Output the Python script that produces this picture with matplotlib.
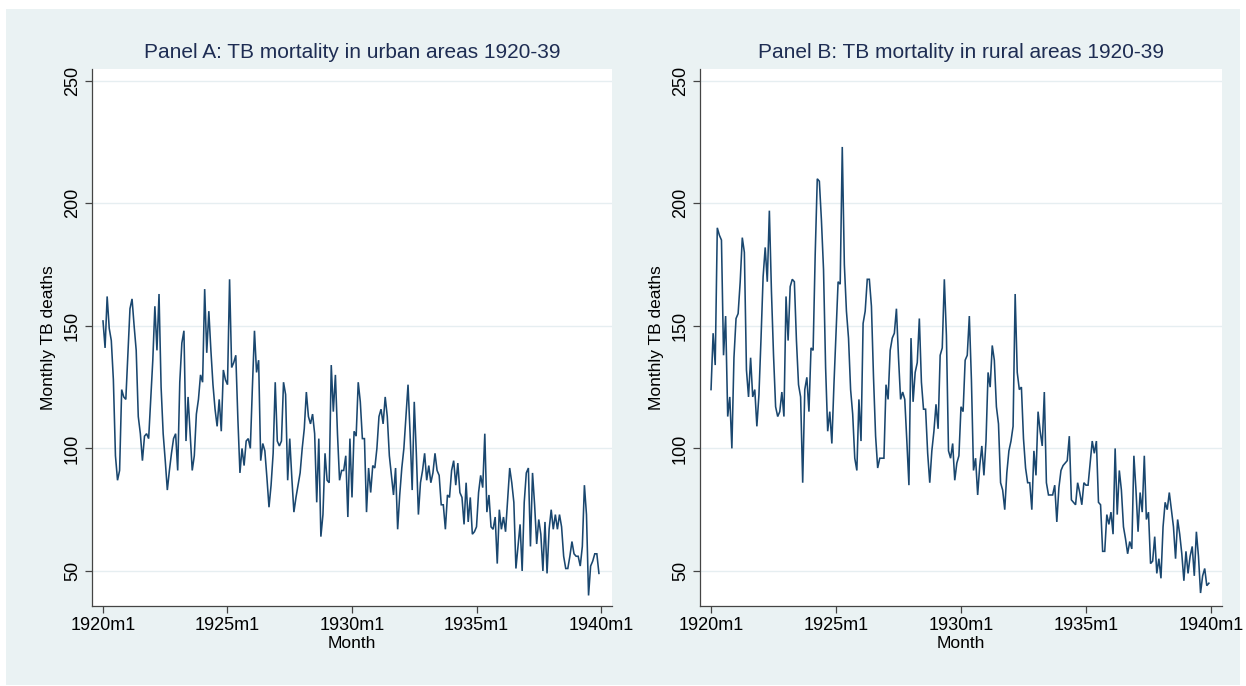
import matplotlib
matplotlib.use("Agg")
import matplotlib.pyplot as plt
from matplotlib.patches import Rectangle

plt.rcParams['font.family'] = ['Liberation Sans', 'DejaVu Sans']

# Monthly TB deaths, 1920m1 .. 1939m12 (240 months)
urban_deaths = [
    152,141,162,149,144,128,97,87,91,124, 121,120,139,157,161,150,140,113,106,95,
    105,106,104,120,136,158,140,163,125,106, 95,83,91,98,104,106,91,127,143,148,
    103,121,106,91,97,114,120,130,127,
    165,139,156,140,126,116,109,120,107,132, 128,126,169,133,135,138,112,90,100,93,
    103,104,100,125,148,131,136,95,102,99, 88,76,85,98,127,103,101,103,127,122,
    87,104,88,74,80,85,90,100,108,123, 113,110,114,106,
    78,104,64,73,98,87,86,134,115,130, 106,87,91,91,97,72,104,80,107,105,
    127,119,104,104,74,92,82,93,92,100, 113,116,110,121,113,97,89,81,92,67,
    81,92,100,113,126,106,83,119,98,73, 86,
    91,98,87,93,86,90,98,91,89,77, 77,67,81,80,91,95,85,94,82,80,
    69,86,70,80,65,66,68,82,89,84, 106,74,81,68,67,72,53,75,67,72,
    66,79,92,86,78,51,60,69,50,78, 90,
    92,60,90,77,61,71,65,50,70,49, 67,75,67,73,67,73,68,56,51,51,
    56,62,57,56,56,52,60,85,73,40, 52,54,57,57,49,
]

rural_deaths = [
    124,147,134,190,187,185,138,154,113,121, 100,137,153,155,168,186,180,132,121,137,
    121,124,109,122,145,170,182,168,197,164, 138,117,113,115,123,113,162,144,166,169,
    168,144,126,121,86,124,129,115,141,
    140,179,210,209,193,173,133,107,115,102, 126,147,168,167,223,175,156,145,124,114,
    96,91,120,103,151,156,169,169,158,129, 105,92,96,96,96,126,120,140,145,147,
    157,137,120,123,120,103,85,
    145,119,131,135,153,127,116,116,98,86, 99,107,118,108,138,141,169,146,99,96,
    102,87,94,97,117,115,136,138,154,128, 91,96,81,93,101,89,103,131,125,142,
    136,117,110,86,83,75,90,99,
    103,109,163,131,124,125,104,92,86,86, 75,99,89,115,107,101,123,86,81,81,
    81,85,70,84,91,93,94,95,105,79, 78,77,86,82,77,86,85,85,94,103,
    98,103,78,77,
    58,58,73,69,74,65,100,73,91,83, 68,63,57,62,59,97,83,66,82,74,
    97,71,74,53,54,64,49,55,47,68, 78,75,82,75,68,55,71,65,57,46,
    58,49,56,60,48,66,56,41,48,51, 44,45,
]

panel_titles = ["Panel A: TB mortality in urban areas 1920-39",
                "Panel B: TB mortality in rural areas 1920-39"]
x_tick_months = [0, 60, 120, 180, 240]
x_tick_labels = ["1920m1", "1925m1", "1930m1", "1935m1", "1940m1"]
y_ticks = [50, 100, 150, 200, 250]
x_label = "Month"
y_label = "Monthly TB deaths"

W, H = 1246, 686
fig = plt.figure(figsize=(W / 100, H / 100), dpi=100, facecolor="white")

BG = "#EAF2F3"
fig.patches.append(Rectangle((6 / W, 1 - 685 / H), (1240 - 6) / W, (685 - 9) / H,
                             transform=fig.transFigure, facecolor=BG,
                             edgecolor="none", zorder=-10))

LINE = "#1A476F"
TITLE_C = "#1E2D53"
GRID = "#E6EEF1"

panels = [(92, 612), (700, 1222)]
top, bot = 69, 606
series = [urban_deaths, rural_deaths]

for (l, r), title, data in zip(panels, panel_titles, series):
    ax = fig.add_axes([l / W, 1 - bot / H, (r - l) / W, (bot - top) / H])
    ax.set_facecolor("white")
    months = list(range(len(data)))
    ax.plot(months, data, color=LINE, lw=1.15, solid_joinstyle="miter", zorder=3)
    ax.set_xlim(-5.3, 245.3)
    ax.set_ylim(35.7, 254.8)
    ax.set_xticks(x_tick_months)
    ax.set_xticklabels(x_tick_labels, fontsize=13)
    ax.set_yticks(y_ticks)
    ax.set_yticklabels([str(v) for v in y_ticks], fontsize=13,
                       rotation=90, va="center")
    ax.grid(axis="y", color=GRID, lw=1.0, zorder=0)
    ax.set_axisbelow(True)
    for s in ["top", "right"]:
        ax.spines[s].set_visible(False)
    for s in ["left", "bottom"]:
        ax.spines[s].set_color("#444444")
        ax.spines[s].set_linewidth(0.9)
    ax.tick_params(axis="both", length=5, width=0.9, color="#444444",
                   labelcolor="black", pad=3)
    ax.set_xlabel(x_label, fontsize=12.5, labelpad=1)
    ax.set_ylabel(y_label, fontsize=12.5, labelpad=6)
    ax.set_title(title, fontsize=15, color=TITLE_C, pad=8)

fig.savefig("out.png", dpi=100, facecolor="white")
